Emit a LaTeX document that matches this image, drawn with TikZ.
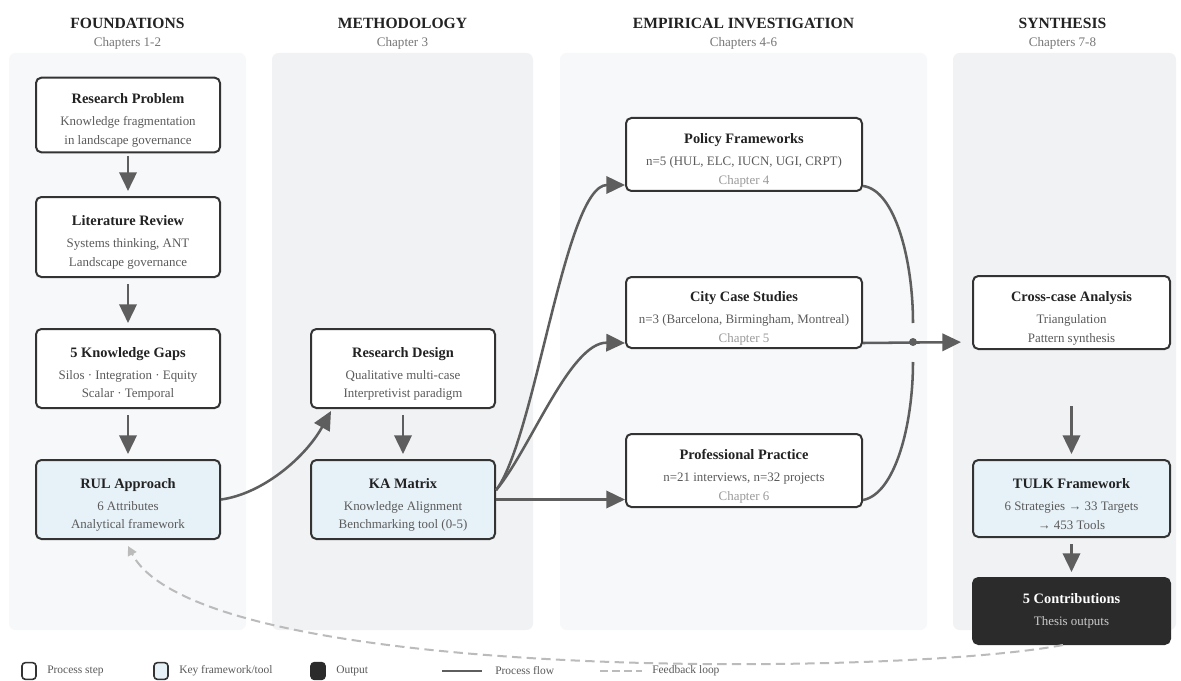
\documentclass[tikz,border=0pt]{standalone}
\usepackage{fontspec}
\setmainfont{Liberation Serif}
\usetikzlibrary{arrows.meta}
\definecolor{panelA}{HTML}{F7F8FA}
\definecolor{panelB}{HTML}{F1F2F4}
\definecolor{boxline}{HTML}{333333}
\definecolor{keyfill}{HTML}{E7F2F8}
\definecolor{outfill}{HTML}{2B2B2B}
\definecolor{flowc}{HTML}{5E5E5E}
\definecolor{fbc}{HTML}{BBBBBB}
\definecolor{titlec}{HTML}{222222}
\definecolor{subc}{HTML}{5A5A5A}
\definecolor{chapc}{HTML}{9A9A9A}
\definecolor{headc}{HTML}{777777}
\newcommand\bxtitle[1]{{\fontsize{10.8}{14}\selectfont\bfseries\color{titlec}#1}\\[2.5pt]}
\newcommand\chapline[1]{{\color{chapc}#1}}
\begin{document}
\begin{tikzpicture}[x=0.75pt,y=-0.75pt,
  panelbg/.style={rounded corners=5pt},
  box/.style={draw=boxline, line width=1.5pt, rounded corners=4pt, fill=white, inner sep=0pt},
  keybox/.style={box, fill=keyfill},
  outbox/.style={box, fill=outfill, draw=outfill},
  btext/.style={align=center, font=\fontsize{9.7}{14}\selectfont, text=subc, inner sep=0pt},
  headtitle/.style={anchor=base, font=\fontsize{11.7}{14}\selectfont\bfseries, text=titlec, inner sep=0pt},
  headsub/.style={anchor=base, font=\fontsize{9.8}{12}\selectfont, text=headc, inner sep=0pt},
  flowline/.style={draw=flowc, line width=1.9pt},
  flow/.style={flowline, -{Triangle[length=14pt,width=13pt]}},
  fb/.style={draw=fbc, line width=1.5pt, dash pattern=on 7pt off 4pt, -{Triangle[length=7pt,width=7pt]}},
  legtext/.style={anchor=west, font=\fontsize{8.6}{11}\selectfont, text=subc, inner sep=0pt},
  legicon/.style={line width=1.2pt, rounded corners=2.5pt, minimum width=10.5pt, minimum height=12.5pt},
]
\fill[white] (0,0) rectangle (1181,681);
\useasboundingbox (0,0) rectangle (1181,681);

% panels
\fill[panelA, panelbg] (9,53) rectangle (246,630);
\fill[panelB, panelbg] (272,53) rectangle (533,630);
\fill[panelA, panelbg] (560,53) rectangle (927,630);
\fill[panelB, panelbg] (953,53) rectangle (1176,630);

% headers
\node[headtitle] (h1) at (127.5,29) {FOUNDATIONS};
\node[headsub] (h1s) at (127.5,47) {Chapters 1-2};
\node[headtitle] (h2) at (402.5,29) {METHODOLOGY};
\node[headsub] (h2s) at (402.5,47) {Chapter 3};
\node[headtitle] (h3) at (743.5,29) {EMPIRICAL INVESTIGATION};
\node[headsub] (h3s) at (743.5,47) {Chapters 4-6};
\node[headtitle] (h4) at (1062.5,29) {SYNTHESIS};
\node[headsub] (h4s) at (1062.5,47) {Chapters 7-8};

% column 1
\node[box, minimum width=138pt, minimum height=56pt] (rp) at (128,115) {};
\node[btext] (rp-t) at ([yshift=-4pt]rp.center) {\bxtitle{Research Problem}Knowledge fragmentation\\in landscape governance};
\node[box, minimum width=138pt, minimum height=60pt] (lr) at (128,237) {};
\node[btext] (lr-t) at ([yshift=-4pt]lr.center) {\bxtitle{Literature Review}Systems thinking, ANT\\Landscape governance};
\node[box, minimum width=138pt, minimum height=59.25pt] (kg) at (128,368.5) {};
\node[btext] (kg-t) at ([yshift=-4pt]kg.center) {\bxtitle{5 Knowledge Gaps}Silos · Integration · Equity\\Scalar · Temporal};
\node[keybox, minimum width=138pt, minimum height=59.25pt] (rul) at (128,499.5) {};
\node[btext] (rul-t) at ([yshift=-4pt]rul.center) {\bxtitle{RUL Approach}6 Attributes\\Analytical framework};

% column 2
\node[box, minimum width=138pt, minimum height=59.25pt] (rd) at (403,368.5) {};
\node[btext] (rd-t) at ([yshift=-4pt]rd.center) {\bxtitle{Research Design}Qualitative multi-case\\Interpretivist paradigm};
\node[keybox, minimum width=138pt, minimum height=59.25pt] (ka) at (403,499.5) {};
\node[btext] (ka-t) at ([yshift=-4pt]ka.center) {\bxtitle{KA Matrix}Knowledge Alignment\\Benchmarking tool (0-5)};

% column 3
\node[box, minimum width=177pt, minimum height=54.75pt] (pf) at (744,154.5) {};
\node[btext] (pf-t) at ([yshift=-4.5pt]pf.center) {\bxtitle{Policy Frameworks}n=5 (HUL, ELC, IUCN, UGI, CRPT)\\\chapline{Chapter 4}};
\node[box, minimum width=177pt, minimum height=53.25pt] (ccs) at (744,312.5) {};
\node[btext] (ccs-t) at ([yshift=-4.5pt]ccs.center) {\bxtitle{City Case Studies}n=3 (Barcelona, Birmingham, Montreal)\\\chapline{Chapter 5}};
\node[box, minimum width=177pt, minimum height=54.75pt] (pp) at (744,470.5) {};
\node[btext] (pp-t) at ([yshift=-4.5pt]pp.center) {\bxtitle{Professional Practice}n=21 interviews, n=32 projects\\\chapline{Chapter 6}};

% column 4
\node[box, minimum width=147.75pt, minimum height=54.75pt] (ca) at (1071.5,312.5) {};
\node[btext] (ca-t) at ([yshift=-4.5pt]ca.center) {\bxtitle{Cross-case Analysis}Triangulation\\Pattern synthesis};
\node[keybox, minimum width=147.75pt, minimum height=57.75pt] (tulk) at (1071.5,498.5) {};
\node[btext] (tulk-t) at ([yshift=-4pt]tulk.center) {\bxtitle{TULK Framework}6 Strategies → 33 Targets\\→ 453 Tools};
\node[outbox, minimum width=147.75pt, minimum height=49.5pt] (co) at (1071.5,611) {};
\node[btext, text=white!80!black] (co-t) at (co.center) {{\fontsize{10.8}{14}\selectfont\bfseries\color{white}5 Contributions}\\[2pt]Thesis outputs};

% vertical flows
\draw[flow, shorten <=2pt, shorten >=3.75pt] (rp) -- (lr);
\draw[flow, shorten <=4.5pt, shorten >=3.75pt] (lr) -- (kg);
\draw[flow, shorten <=4.5pt, shorten >=3.75pt] (kg) -- (rul);
\draw[flow, shorten <=4.5pt, shorten >=3.75pt] (rd) -- (ka);
\draw[flow, shorten <=42pt, shorten >=3.75pt] (ca) -- (tulk);
\draw[flow, shorten <=4.5pt, shorten >=3.75pt] (tulk) -- (co);

% curved flows
\draw[flow] (rul.east) .. controls (262,494) and (305,458) .. ([xshift=15.75pt,yshift=-1.5pt]rd.south west);
\draw[flow] ([yshift=7pt]ka.east) .. controls (535,440) and (565,185) .. ([yshift=5.25pt]pf.south west);
\draw[flow] ([yshift=7pt]ka.east) .. controls (530,450) and (570,342) .. ([yshift=4.5pt]ccs.south west);
\draw[flow] (ka.east) -- (ka.east -| pp.west);

% merge
\coordinate (m) at (913,342);
\coordinate (mtop) at (913,323);
\coordinate (mbot) at (913,362);
\draw[flowline] ([yshift=4.5pt]pf.south east) .. controls (895,190) and (913,260) .. (mtop);
\draw[flowline] ([yshift=6pt]pp.south east) .. controls (895,494) and (913,425) .. (mbot);
\draw[flow, shorten >=8.25pt] ([yshift=4.5pt]ccs.south east) -- (m -| ca.west);
\fill[flowc] (m) circle (3pt);

% feedback loop
\draw[fb] ([xshift=-6.4pt]co.south) .. controls (900,676) and (200,684) .. ([yshift=-4.5pt]rul.south);

% legend
\node[box, legicon] (lg1) at (29,671) {};
\node[legtext] (lg1t) at (47,671) {Process step};
\node[keybox, legicon] (lg2) at (161,671) {};
\node[legtext] (lg2t) at (179,671) {Key framework/tool};
\node[outbox, legicon] (lg3) at (318,671) {};
\node[legtext] (lg3t) at (336,671) {Output};
\coordinate (lf1) at (442,671);
\coordinate (lf2) at (482,671);
\draw[flowline] (lf1) -- (lf2);
\node[legtext] (lg4t) at (495,671) {Process flow};
\coordinate (ld1) at (600,671);
\coordinate (ld2) at (642,671);
\draw[draw=fbc, line width=1.5pt, dash pattern=on 6pt off 3pt] (ld1) -- (ld2);
\node[legtext] (lg5t) at (652,671) {Feedback loop};
\end{tikzpicture}
\end{document}
